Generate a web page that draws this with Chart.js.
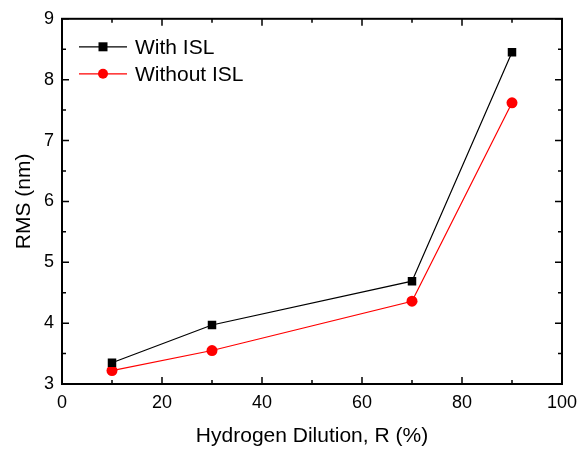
<!DOCTYPE html>
<html>
<head>
<meta charset="utf-8">
<script src="https://cdn.jsdelivr.net/npm/chart.js@4.4.0/dist/chart.umd.min.js"></script>
<style>
  body { margin: 0; background: #fff; }
  canvas { display: block; }
</style>
</head>
<body>
<canvas id="rmsChart" width="587" height="451"></canvas>
<script>
// donnees
var dilution = [10, 30, 70, 90];
var withISL = [3.35, 3.97, 4.69, 8.45];
var withoutISL = [3.22, 3.55, 4.36, 7.62];
var seriesNames = ['With ISL', 'Without ISL'];
var xTicks = [0, 20, 40, 60, 80, 100];
var yTicks = [3, 4, 5, 6, 7, 8, 9];

var fontFam = '"Liberation Sans", Arial, Helvetica, sans-serif';

function points(ys) {
    return dilution.map(function (x, i) {
        return { x: x, y: ys[i] };
    });
}

// cadre + graduations interieures sur les 4 cotes, et legende
var framePlugin = {
    id: 'frame',
    afterDraw: function (chart) {
        var ctx = chart.ctx;
        var a = chart.chartArea;
        var xs = chart.scales.x;
        var ys = chart.scales.y;
        var v, p, len;

        ctx.save();
        ctx.strokeStyle = '#000';
        ctx.lineWidth = 1.5;
        for (v = 0; v <= 100; v += 10) {
            p = xs.getPixelForValue(v);
            len = (v % 20 === 0) ? 7 : 4;
            ctx.beginPath();
            ctx.moveTo(p, a.bottom);
            ctx.lineTo(p, a.bottom - len);
            ctx.moveTo(p, a.top);
            ctx.lineTo(p, a.top + len);
            ctx.stroke();
        }
        for (v = 3; v <= 9; v += 0.5) {
            p = ys.getPixelForValue(v);
            len = (v % 1 === 0) ? 7 : 4;
            ctx.beginPath();
            ctx.moveTo(a.left, p);
            ctx.lineTo(a.left + len, p);
            ctx.moveTo(a.right, p);
            ctx.lineTo(a.right - len, p);
            ctx.stroke();
        }
        ctx.lineWidth = 2;
        ctx.strokeRect(a.left, a.top, a.right - a.left, a.bottom - a.top);

        // legende
        var ds = chart.data.datasets;
        ctx.font = '21px ' + fontFam;
        ctx.textBaseline = 'middle';
        ctx.textAlign = 'left';
        for (var i = 0; i < ds.length; i++) {
            var ly = a.top + 28 + i * 27;
            var lx = a.left + 17;
            ctx.strokeStyle = ds[i].borderColor;
            ctx.lineWidth = 1.2;
            ctx.beginPath();
            ctx.moveTo(lx, ly);
            ctx.lineTo(lx + 48, ly);
            ctx.stroke();
            ctx.fillStyle = ds[i].pointBackgroundColor;
            ctx.beginPath();
            if (ds[i].pointStyle === 'rect') {
                ctx.rect(lx + 24 - 4.5, ly - 4.5, 9, 9);
            } else {
                ctx.arc(lx + 24, ly, 5, 0, Math.PI * 2);
            }
            ctx.fill();
            ctx.fillStyle = '#000';
            ctx.fillText(ds[i].label, lx + 56, ly + 1);
        }
        ctx.restore();
    }
};

var ctx = document.getElementById('rmsChart');
var myChart = new Chart(ctx, {
    type: 'line',
    data: {
        datasets: [{
            label: seriesNames[0],
            data: points(withISL),
            borderColor: '#000000',
            backgroundColor: '#000000',
            pointBackgroundColor: '#000000',
            pointBorderWidth: 0,
            pointStyle: 'rect',
            pointRadius: 6,
            borderWidth: 1.2,
            fill: false
        }, {
            label: seriesNames[1],
            data: points(withoutISL),
            borderColor: '#ff0000',
            backgroundColor: '#ff0000',
            pointBackgroundColor: '#ff0000',
            pointBorderWidth: 0,
            pointStyle: 'circle',
            pointRadius: 5.5,
            borderWidth: 1.2,
            fill: false
        }]
    },
    options: {
        responsive: false,
        animation: false,
        layout: { padding: { top: 15, right: 25, left: 0, bottom: 0 } },
        plugins: {
            legend: { display: false },
            tooltip: { enabled: false }
        },
        scales: {
            x: {
                type: 'linear',
                min: 0,
                max: 100,
                afterBuildTicks: function (s) {
                    s.ticks = xTicks.map(function (v) { return { value: v }; });
                },
                afterFit: function (s) { s.height = 67; },
                grid: { display: false, drawTicks: false },
                border: { display: false },
                ticks: {
                    padding: 8,
                    color: '#000',
                    font: { family: fontFam, size: 18 }
                },
                title: {
                    display: true,
                    text: 'Hydrogen Dilution, R (%)',
                    color: '#000',
                    font: { family: fontFam, size: 21 },
                    padding: { top: 0, bottom: 2 }
                }
            },
            y: {
                type: 'linear',
                min: 3,
                max: 9,
                afterBuildTicks: function (s) {
                    s.ticks = yTicks.map(function (v) { return { value: v }; });
                },
                afterFit: function (s) { s.width = 62; },
                grid: { display: false, drawTicks: false },
                border: { display: false },
                ticks: {
                    padding: 8,
                    color: '#000',
                    font: { family: fontFam, size: 18 }
                },
                title: {
                    display: true,
                    text: 'RMS (nm)',
                    color: '#000',
                    font: { family: fontFam, size: 21 },
                    padding: { top: 12, bottom: 0 }
                }
            }
        }
    },
    plugins: [framePlugin]
});
</script>
</body>
</html>
